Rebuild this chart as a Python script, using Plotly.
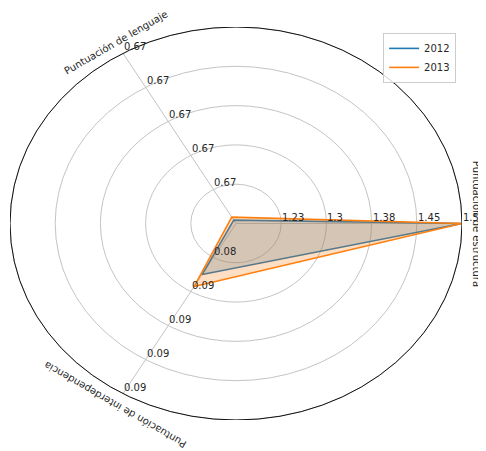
import numpy as np
import plotly.graph_objects as go

# ---- data ----
variables = ["Puntuación de estructura", "Puntuación de lenguaje", "Puntuación de interdependencia"]
years = ["2012", "2013"]
values_2012 = [1.53, 0.66664, 0.08425]
values_2013 = [1.53, 0.66676, 0.085125]
ranges = [(1.155, 1.53), (0.6665, 0.6735), (0.0805, 0.093)]
tick_labels_estructura = ["1.23", "1.3", "1.38", "1.45", "1.53"]
tick_labels_lenguaje = ["0.67", "0.67", "0.67", "0.67", "0.67"]
tick_labels_interdep = ["0.08", "0.09", "0.09", "0.09", "0.09"]

series = [values_2012, values_2013]
colors = ["#1f77b4", "#ff7f0e"]
fills = ["rgba(31,119,180,0.25)", "rgba(255,127,14,0.25)"]
tick_labels = [tick_labels_estructura, tick_labels_lenguaje, tick_labels_interdep]

angles = np.deg2rad(np.arange(0, 360, 360.0 / len(variables)))
grid_color = "#c4c4c4"
text_color = "#262626"
font_family = "DejaVu Sans"


def norm(v, rng):
    lo, hi = rng
    return (v - lo) / (hi - lo)


fig = go.Figure()

# data polygons
for name, vals, col, fc in zip(years, series, colors, fills):
    r = [norm(v, rg) for v, rg in zip(vals, ranges)]
    xs = [ri * np.cos(a) for ri, a in zip(r, angles)]
    ys = [ri * np.sin(a) for ri, a in zip(r, angles)]
    xs.append(xs[0])
    ys.append(ys[0])
    fig.add_trace(go.Scatter(x=xs, y=ys, mode="lines", fill="toself", fillcolor=fc,
                             line=dict(color=col, width=1.6), showlegend=False,
                             hoverinfo="skip"))

# legend entries (line only)
for name, col in zip(years, colors):
    fig.add_trace(go.Scatter(x=[None], y=[None], mode="lines", name=name,
                             line=dict(color=col, width=1.6)))

shapes = []
# rings
levels = [0.2, 0.4, 0.6, 0.8, 1.0]
for lv in levels:
    shapes.append(dict(type="circle", xref="x", yref="y", x0=-lv, x1=lv, y0=-lv, y1=lv,
                       line=dict(color=grid_color, width=1), layer="below"))
# spokes
for a in angles:
    shapes.append(dict(type="line", xref="x", yref="y", x0=0, y0=0, x1=np.cos(a), y1=np.sin(a),
                       line=dict(color=grid_color, width=1), layer="below"))
# outer spine
shapes.append(dict(type="circle", xref="x", yref="y", x0=-1, x1=1, y0=-1, y1=1,
                   line=dict(color="#111111", width=1), layer="above"))

annotations = []
# radial tick labels on each axis
for a, rg, labs in zip(angles, ranges, tick_labels):
    grid = np.linspace(rg[0], rg[1], 6)[1:]
    for gv, lab in zip(grid, labs):
        rr = norm(gv, rg)
        annotations.append(dict(x=rr * np.cos(a), y=rr * np.sin(a), xref="x", yref="y",
                                text=lab, showarrow=False, xanchor="left", yanchor="bottom",
                                borderpad=0, font=dict(family=font_family, size=10, color=text_color)))

# category labels (paper coords; axis range [-1, 1] spans the plot area exactly)
label_angles = [90, -30, -150]
R = 1.065
for a, var, ta in zip(angles, variables, label_angles):
    annotations.append(dict(x=(R * np.cos(a) + 1) / 2, y=(R * np.sin(a) + 1) / 2,
                            xref="paper", yref="paper",
                            text=var, showarrow=False, textangle=ta,
                            xanchor="center", yanchor="middle",
                            font=dict(family=font_family, size=10, color=text_color)))

# page body has an 8px default margin, so the figure is 8px smaller and margins compensate
fig.update_layout(
    width=478, height=443, autosize=False,
    margin=dict(l=2, r=24, t=19, b=31),
    paper_bgcolor="white", plot_bgcolor="white",
    xaxis=dict(range=[-1, 1], visible=False, fixedrange=True),
    yaxis=dict(range=[-1, 1], visible=False, fixedrange=True),
    shapes=shapes, annotations=annotations,
    font=dict(family=font_family, size=10, color=text_color),
    legend=dict(x=0.987, y=0.985, xanchor="right", yanchor="top",
                bordercolor="#cccccc", borderwidth=1, bgcolor="rgba(255,255,255,0.8)",
                font=dict(family=font_family, size=10, color=text_color),
                itemwidth=30, tracegroupgap=0),
    showlegend=True,
)

fig.write_html("out.html")
